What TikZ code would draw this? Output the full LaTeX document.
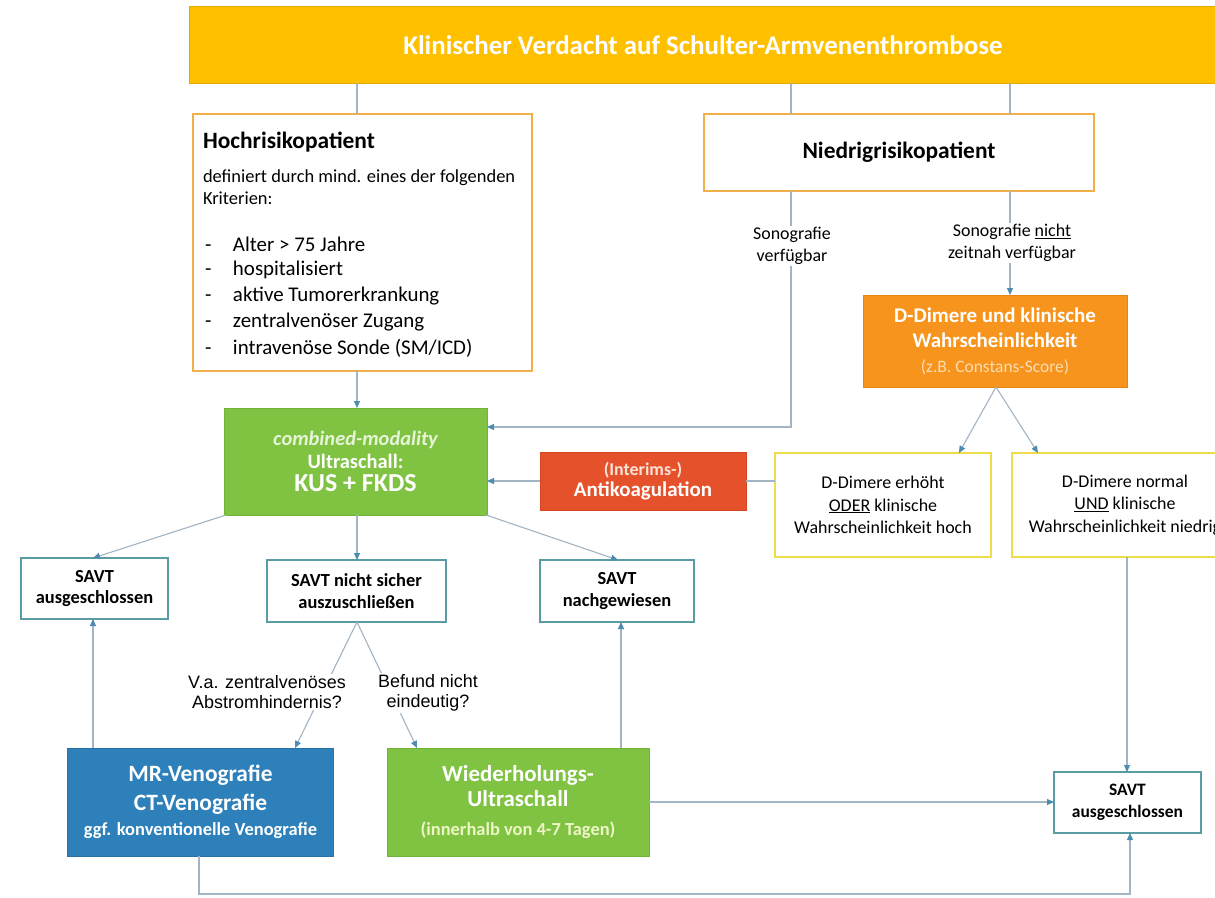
\documentclass[tikz,border=0pt]{standalone}
\usepackage{fontspec}
\setmainfont{Carlito}
\newfontfamily\arialfont{Liberation Sans}
\usetikzlibrary{arrows.meta}
\definecolor{barC}{HTML}{FFC000}
\definecolor{barD}{HTML}{E3AA00}
\definecolor{hochC}{HTML}{F2B04A}
\definecolor{orC}{HTML}{F7941E}
\definecolor{orD}{HTML}{E8870F}
\definecolor{orSub}{HTML}{FDDCB0}
\definecolor{grC}{HTML}{80C343}
\definecolor{grD}{HTML}{72B236}
\definecolor{grSub}{HTML}{E8F4D8}
\definecolor{wiSub}{HTML}{EEF5C6}
\definecolor{redC}{HTML}{E5512A}
\definecolor{redD}{HTML}{D24622}
\definecolor{redSub}{HTML}{FCE3D8}
\definecolor{blC}{HTML}{2E80BA}
\definecolor{blD}{HTML}{2A72A6}
\definecolor{yelC}{HTML}{EEDC4A}
\definecolor{tealC}{HTML}{5A9CA3}
\definecolor{lineC}{HTML}{A3B4C4}
\definecolor{arrC}{HTML}{4D8CB0}
\newcommand\fz[2]{\fontsize{#1}{#2}\selectfont}
\tikzset{
  base/.style={rectangle, inner sep=0pt, outer sep=0pt, align=center},
  topbar/.style={base, fill=barC, draw=barD, line width=1bp, text=white, font=\fz{27}{30}\bfseries},
  hochbox/.style={base, draw=hochC, line width=1.6bp, fill=white},
  orbox/.style={base, fill=orC, draw=orD, line width=1bp, text=white, font=\fz{21}{25}\bfseries},
  grbox/.style={base, fill=grC, draw=grD, line width=1bp, text=white, font=\bfseries},
  redbox/.style={base, fill=redC, draw=redD, line width=1bp, text=white, font=\fz{21}{21}\bfseries},
  blbox/.style={base, fill=blC, draw=blD, line width=1bp, text=white, font=\fz{23.5}{29}\bfseries},
  yelbox/.style={base, draw=yelC, line width=1.6bp, fill=white, font=\fz{18}{22.5}},
  savtbox/.style={base, draw=tealC, line width=1.5bp, fill=white, font=\fz{18.5}{22}\bfseries},
  txt/.style={inner sep=0pt, outer sep=0pt, anchor=west},
  lab/.style={inner sep=1.5bp, fill=white, align=center, font=\fz{18}{22}},
  arlab/.style={inner sep=1.5bp, fill=white, align=center, font=\arialfont\fz{18}{20.5}},
  ln/.style={draw=lineC, line width=1.1bp},
  arr/.style={ln, -{Triangle[length=7bp,width=6bp,color=arrC]}}
}
\begin{document}
\begin{tikzpicture}[x=1bp,y=-1bp]
\useasboundingbox (0,0) rectangle (1215,898);
\clip (0,0) rectangle (1215,898);
\fill[white] (0,0) rectangle (1215,898);
% x positions
\coordinate (k93) at (93,0);
\coordinate (k199) at (199,0);
\coordinate (k226) at (226,0);
\coordinate (k295) at (295,0);
\coordinate (k357) at (357,0);
\coordinate (k417) at (417,0);
\coordinate (k486) at (486,0);
\coordinate (k618) at (618,0);
\coordinate (k621) at (621,0);
\coordinate (k791) at (791,0);
\coordinate (k959) at (959,0);
\coordinate (k996) at (996,0);
\coordinate (k1010) at (1010,0);
\coordinate (k1038) at (1038,0);
\coordinate (k1127) at (1127,0);
\coordinate (k1130) at (1130,0);
\coordinate (c427) at (0,427);
\coordinate (c894) at (0,894);

% nodes
\node[topbar, minimum width=1026bp, minimum height=76bp] (top) at (703,45) {Klinischer Verdacht auf Schulter-Armvenenthrombose};

\node[hochbox, minimum width=339bp, minimum height=257bp] (hoch) at (362.5,242.5) {};
\node[txt, font=\fz{23.5}{26}\bfseries] (h1) at (203,142) {Hochrisikopatient};
\node[txt, font=\fz{18.5}{20}] (h2) at (203,178) {definiert durch mind. eines der folgenden};
\node[txt, font=\fz{18.5}{20}] (h3) at (203,198) {Kriterien:};
\node[txt, font=\fz{21}{26}] (b1) at (205,244) {\makebox[28bp][l]{-}Alter > 75 Jahre};
\node[txt, font=\fz{21}{26}] (b2) at (205,270) {\makebox[28bp][l]{-}hospitalisiert};
\node[txt, font=\fz{21}{26}] (b3) at (205,296) {\makebox[28bp][l]{-}aktive Tumorerkrankung};
\node[txt, font=\fz{21}{26}] (b4) at (205,322) {\makebox[28bp][l]{-}zentralvenöser Zugang};
\node[txt, font=\fz{21}{26}] (b5) at (205,348) {\makebox[28bp][l]{-}intravenöse Sonde (SM/ICD)};

\node[hochbox, minimum width=390bp, minimum height=77bp, font=\fz{23.5}{26}\bfseries] (niedrig) at (899,152.5) {Niedrigrisikopatient};

\node[orbox, minimum width=264bp, minimum height=92bp] (orange) at (995,341) {D-Dimere und klinische\\Wahrscheinlichkeit\\{\fz{17.5}{20}\mdseries\color{orSub}(z.B. Constans-Score)}};

\node[grbox, minimum width=263bp, minimum height=107bp, font=\fz{20.5}{22.5}\bfseries] (green) at (355.5,461.5) {{\itshape\color{grSub}combined-modality}\\Ultraschall:\\[1bp]{\fz{26}{28}KUS + FKDS}};

\node[redbox, minimum width=206bp, minimum height=58bp] (red) at (643,481) {{\fz{18}{21}\color{redSub}(Interims-)}\\Antikoagulation};

\node[yelbox, minimum width=216bp, minimum height=104bp] (yel1) at (883,505) {D-Dimere erhöht\\\underline{ODER} klinische\\Wahrscheinlichkeit hoch};
\node[yelbox, minimum width=226bp, minimum height=104bp] (yel2) at (1125,505) {D-Dimere normal\\\underline{UND} klinische\\Wahrscheinlichkeit niedrig};

\node[savtbox, minimum width=147bp, minimum height=61bp] (savt1) at (94.5,588.5) {SAVT\\ausgeschlossen};
\node[savtbox, minimum width=179bp, minimum height=62bp] (savt2) at (356.5,591) {SAVT nicht sicher\\auszuschließen};
\node[savtbox, minimum width=154bp, minimum height=62bp] (savt3) at (617,591) {SAVT\\nachgewiesen};

\node[blbox, minimum width=265bp, minimum height=108bp] (mr) at (200.5,802) {MR-Venografie\\CT-Venografie\\[-4bp]{\fz{18.5}{20}ggf. konventionelle Venografie}};
\node[grbox, minimum width=262bp, minimum height=108bp, font=\fz{23}{25}\bfseries] (wied) at (518,802) {Wiederholungs-\\Ultraschall\\[4bp]{\fz{18.5}{20}\color{wiSub}(innerhalb von 4-7 Tagen)}};

\node[savtbox, minimum width=147bp, minimum height=61bp, font=\fz{17.5}{22}\bfseries] (savt4) at (1127.5,802.5) {SAVT\\ausgeschlossen};

% connectors
\draw[ln] (top.south -| k357) -- (hoch.north -| k357);
\draw[ln] (top.south -| k791) -- (niedrig.north -| k791);
\draw[ln] (top.south -| k1010) -- (niedrig.north -| k1010);
\draw[arr] (hoch.south -| k357) -- (green.north -| k357);
\draw[arr] (niedrig.south -| k791) -- (k791 |- c427) -- (green.east |- c427);
\draw[arr] (niedrig.south -| k1010) -- (orange.north -| k1010);
\node[lab] (labA) at (792,246) {Sonografie\\verfügbar};
\node[lab] (labB) at (1012,243) {Sonografie \underline{nicht}\\zeitnah verfügbar};
\draw[arr] (orange.south -| k996) -- (yel1.north -| k959);
\draw[arr] (orange.south -| k996) -- (yel2.north -| k1038);
\draw[ln] (red.east -| yel1.west) -- (red.east);
\draw[arr] (red.west) -- (red.west -| green.east);
\draw[arr] (yel2.south -| k1127) -- (savt4.north -| k1127);
\draw[arr] (green.south -| k226) -- (savt1.north -| k93);
\draw[arr] (green.south -| k357) -- (savt2.north -| k357);
\draw[arr] (green.south -| k486) -- (savt3.north -| k618);
\draw[arr] (savt2.south -| k357) -- (mr.north -| k295);
\draw[arr] (savt2.south -| k357) -- (wied.north -| k417);
\node[arlab] (labC) at (267,692) {V.a. zentralvenöses\\Abstromhindernis?};
\node[arlab] (labD) at (428,693) {Befund nicht\\eindeutig?};
\draw[arr] (mr.north -| k93) -- (savt1.south -| k93);
\draw[arr] (wied.north -| k621) -- (savt3.south -| k621);
\draw[arr] (wied.east) -- (wied.east -| savt4.west);
\draw[arr] (mr.south -| k199) -- (k199 |- c894) -- (k1130 |- c894) -- (savt4.south -| k1130);
\end{tikzpicture}
\end{document}
